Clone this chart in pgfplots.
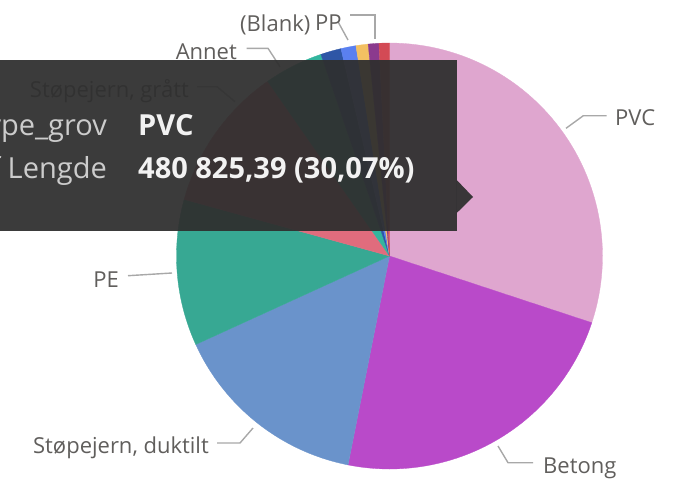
\documentclass[border=0pt]{standalone}
\usepackage{pgfplots}
\pgfplotsset{compat=1.18}
\usepackage{pgfplotstable}
\usepackage{fontspec}
\setmainfont{Open Sans}

\definecolor{cPVC}{HTML}{DFA6CF}
\definecolor{cBetong}{HTML}{B94AC9}
\definecolor{cDuktilt}{HTML}{6A93CB}
\definecolor{cPE}{HTML}{37A893}
\definecolor{cGraatt}{HTML}{E06C7D}
\definecolor{cAnnet}{HTML}{33B59E}
\definecolor{cDarkBlue}{HTML}{2E56A6}
\definecolor{cBlue}{HTML}{5A80F0}
\definecolor{cYellow}{HTML}{F3C062}
\definecolor{cPurple}{HTML}{8B3A8E}
\definecolor{cRed}{HTML}{D34A55}
\definecolor{labelgray}{HTML}{605E5C}
\definecolor{leadgray}{HTML}{A8A8A8}
\definecolor{tipbg}{HTML}{2F2F2F}

% Lengde per Type_grov, clockwise from 12 o'clock
\pgfplotstableread{
value col
480825.39 cPVC
368574 cBetong
240812 cDuktilt
177491 cPE
176372 cGraatt
71476 cAnnet
24945 cDarkBlue
18229 cBlue
14711 cYellow
12952 cPurple
12633 cRed
}\piedata

\begin{document}
\begin{tikzpicture}
\useasboundingbox (0,0) rectangle (684pt,479pt);
\begin{axis}[
  at={(0,0)}, anchor=south west,
  x=1pt, y=1pt,
  xmin=0, xmax=684, ymin=0, ymax=479,
  y dir=reverse,
  hide axis, clip=true,
]
% total of the table
\pgfplotstablegetrowsof{\piedata}
\pgfmathtruncatemacro\lastrow{\pgfplotsretval-1}
\def\total{0}
\pgfplotsforeachungrouped \i in {0,...,\lastrow}{%
  \pgfplotstablegetelem{\i}{value}\of\piedata
  \edef\total{\fpeval{\total+\pgfplotsretval}}%
}
% slices
\def\cum{0}
\pgfplotsforeachungrouped \i in {0,...,\lastrow}{%
  \pgfplotstablegetelem{\i}{value}\of\piedata \let\val\pgfplotsretval
  \pgfplotstablegetelem{\i}{col}\of\piedata \let\col\pgfplotsretval
  \edef\astart{\fpeval{360*\cum/\total}}%
  \edef\cum{\fpeval{\cum+\val}}%
  \edef\aend{\fpeval{360*\cum/\total}}%
  \edef\cmd{\noexpand\addplot[fill=\col, draw=\col, line width=0.3pt,
      domain=\astart:\aend, samples=60]
      ({389.5+213*sin(x)},{256-213*cos(x)}) -- (axis cs:389.5,256) -- cycle;}%
  \cmd
}

% leader lines
\tikzset{leader/.style={draw=leadgray, line width=1.4pt}}
\draw[leader] (axis cs:566,128.3) -- (axis cs:583.3,115.7) -- (axis cs:606.7,115.7);
\draw[leader] (axis cs:498,446) -- (axis cs:508,462.7) -- (axis cs:533,462.7);
\draw[leader] (axis cs:217,443) -- (axis cs:240,443) -- (axis cs:253,428);
\draw[leader] (axis cs:128,275.7) -- (axis cs:172,273);
\draw[leader] (axis cs:197,86.7) -- (axis cs:217,86.7) -- (axis cs:235,101.7);
\draw[leader] (axis cs:246.7,48.3) -- (axis cs:268,48.3) -- (axis cs:280,66.7);
\draw[leader] (axis cs:338,21.7) -- (axis cs:348,40);
\draw[leader] (axis cs:350,15) -- (axis cs:375,15) -- (axis cs:375,39);

% labels
\tikzset{lab/.style={text=labelgray, inner sep=0pt, font=\fontsize{22}{26}\selectfont}}
\node[lab, anchor=base west] at (axis cs:615,125) {PVC};
\node[lab, anchor=base west] at (axis cs:543,473) {Betong};
\node[lab, anchor=base east] at (axis cs:209,453) {Støpejern, duktilt};
\node[lab, anchor=base east] at (axis cs:119,287) {PE};
\node[lab, anchor=base east] at (axis cs:189,97) {Støpejern, grått};
\node[lab, anchor=base east] at (axis cs:237,59) {Annet};
\node[lab, anchor=base west] at (axis cs:240,31.5) {(Blank)};
\node[lab, anchor=base west] at (axis cs:315,30.5) {PP};

% tooltip
\fill[tipbg, fill opacity=0.94] (axis cs:-20,60) rectangle (axis cs:456.7,230.7);
\fill[tipbg, fill opacity=0.94] (axis cs:456.7,180) -- (axis cs:473,197) -- (axis cs:456.7,213) -- cycle;
\tikzset{tip/.style={inner sep=0pt, font=\fontsize{29}{33}\selectfont}}
\node[tip, text=black!20, anchor=base east] at (axis cs:107,135) {Type\_grov};
\node[tip, text=black!20, anchor=base east] at (axis cs:107,178) {Sum of Lengde};
\node[tip, text=white!95!black, anchor=base west, font=\fontsize{29}{33}\selectfont\bfseries] at (axis cs:138,135) {PVC};
\node[tip, text=white!95!black, anchor=base west, font=\fontsize{29}{33}\selectfont\bfseries] at (axis cs:138,178) {480 825,39 (30,07\%)};
\end{axis}
\end{tikzpicture}
\end{document}
